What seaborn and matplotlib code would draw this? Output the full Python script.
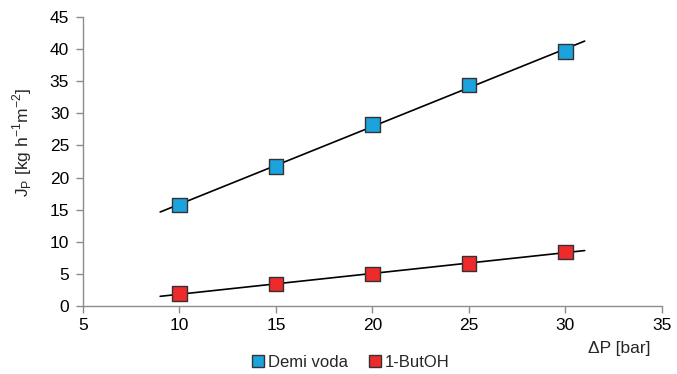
import numpy as np
import pandas as pd
import matplotlib
matplotlib.use("Agg")
import matplotlib.pyplot as plt
import seaborn as sns

# data
pressure = [10, 15, 20, 25, 30]
demi_voda = [15.7, 21.7, 28.3, 34.4, 39.6]
butoh = [1.9, 3.4, 5.0, 6.6, 8.4]
series_names = ["Demi voda", "1-ButOH"]
colors = ["#1ba3dd", "#ee2a2a"]
x_ticks = [5, 10, 15, 20, 25, 30, 35]
y_ticks = [0, 5, 10, 15, 20, 25, 30, 35, 40, 45]

sns.set_style("white")
plt.rcParams["font.family"] = ["Liberation Sans", "DejaVu Sans"]
plt.rcParams["font.size"] = 12

df = pd.DataFrame({
    "dP": pressure * 2,
    "J": demi_voda + butoh,
    "series": [series_names[0]] * 5 + [series_names[1]] * 5,
})

fig = plt.figure(figsize=(6.77, 3.74), dpi=100)
ax = fig.add_axes([0.1226, 0.182, 0.855, 0.7725])

# linear trend lines
x_fit = np.array([9, 31])
for vals in (demi_voda, butoh):
    k, b = np.polyfit(pressure, vals, 1)
    ax.plot(x_fit, k * x_fit + b, color="black", lw=1.2, zorder=2)

sns.scatterplot(data=df, x="dP", y="J", hue="series", palette=colors,
                marker="s", s=110, edgecolor="#333333", linewidth=1.0,
                ax=ax, zorder=3, legend=False)

ax.set_xlim(5, 35)
ax.set_ylim(0, 45)
ax.set_xticks(x_ticks)
ax.set_yticks(y_ticks)
ax.set_xlabel("")
ax.set_ylabel("")
for side in ("top", "right"):
    ax.spines[side].set_visible(False)
for side in ("left", "bottom"):
    ax.spines[side].set_color("#8c8c8c")
    ax.spines[side].set_linewidth(1.0)
ax.tick_params(axis="both", direction="out", length=5, width=1.0,
               color="#8c8c8c", labelsize=12.5, labelcolor="black", pad=5)
ax.tick_params(axis="x", bottom=True, pad=4)
ax.tick_params(axis="y", left=True)

fig.text(0.915, 0.067, "\u0394P [bar]", ha="center", va="center", fontsize=12.5)
fig.text(0.033, 0.62, r"J$_\mathregular{P}$ [kg h$^\mathregular{-1}$m$^\mathregular{-2}$]",
         rotation=90, ha="center", va="center", fontsize=12.5)

handles = [plt.Line2D([], [], marker="s", ls="", markersize=9,
                      markerfacecolor=c, markeredgecolor="#333333")
           for c in colors]
fig.legend(handles, series_names, loc="center", bbox_to_anchor=(0.517, 0.032),
           ncol=2, frameon=False, fontsize=12, handletextpad=0.1,
           columnspacing=1.2, handlelength=0.9)

fig.savefig("out.png", dpi=100)
